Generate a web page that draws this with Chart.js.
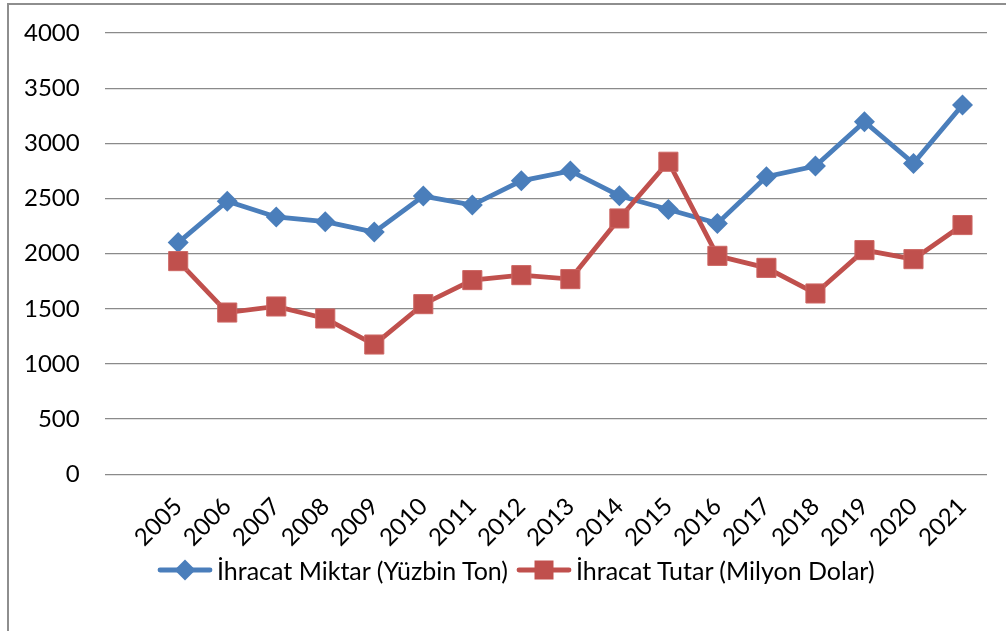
<!DOCTYPE html>
<html>
<head>
<meta charset="utf-8">
<script src="https://cdn.jsdelivr.net/npm/chart.js@4/dist/chart.umd.min.js"></script>
<style>
  html, body { margin: 0; padding: 0; background: #fff; }
  #wrap { position: relative; width: 1006px; height: 631px; overflow: hidden; }
  #frame { position: absolute; left: 7px; top: 3px; width: 1020px; height: 650px;
           border-left: 2px solid #8e8e8e; border-top: 2px solid #8e8e8e; }
  canvas#exportChart { position: absolute; left: 0; top: 0; }
  #legend { position: absolute; left: 157px; top: 555px; display: flex; align-items: center;
            font-family: Lato, "Open Sans", sans-serif; font-size: 25px; color: #000; white-space: nowrap; }
  #legend canvas { display: block; }
  #legend .txt { margin-left: 4px; margin-right: 8px; line-height: 30px; }
</style>
</head>
<body>
<div id="wrap">
  <div id="frame"></div>
  <canvas id="exportChart" width="1006" height="631"></canvas>
  <div id="legend"></div>
</div>
<script>
// data
const years = [2005, 2006, 2007, 2008, 2009, 2010, 2011, 2012, 2013, 2014, 2015, 2016, 2017, 2018, 2019, 2020, 2021];
const miktar = [2100, 2475, 2332, 2290, 2195, 2522, 2440, 2660, 2750, 2525, 2400, 2274, 2697, 2794, 3196, 2818, 3347];
const tutar = [1932, 1466, 1521, 1412, 1176, 1542, 1760, 1805, 1769, 2319, 2833, 1980, 1871, 1639, 2032, 1950, 2259];
const yTicks = [0, 500, 1000, 1500, 2000, 2500, 3000, 3500, 4000];

const blue = '#4a7ebb';
const red = '#c0504d';
const fontFamily = 'Lato, "Open Sans", sans-serif';
const clear = 'rgba(0,0,0,0)';

const ctx = document.getElementById('exportChart').getContext('2d');
const chart = new Chart(ctx, {
    type: 'line',
    data: {
        datasets: [
            {
                label: 'İhracat Miktar (Yüzbin Ton)',
                data: years.map((y, i) => ({ x: y, y: miktar[i] })),
                borderColor: blue,
                backgroundColor: blue,
                borderWidth: 4.8,
                pointStyle: 'rectRot',
                pointRadius: 10.5,
                pointBorderWidth: 0,
                order: 1
            },
            {
                label: 'İhracat Tutar (Milyon Dolar)',
                data: years.map((y, i) => ({ x: y, y: tutar[i] })),
                borderColor: red,
                backgroundColor: red,
                borderWidth: 4.8,
                pointStyle: 'rect',
                pointRadius: 13.5,
                pointBorderWidth: 1,
                pointBorderColor: '#cd6764',
                order: 0
            }
        ]
    },
    options: {
        responsive: false,
        animation: false,
        layout: { padding: { left: 21, right: 19, top: 33, bottom: 77 } },
        scales: {
            x: {
                type: 'linear',
                min: 2003.5,
                max: 2021.5,
                afterBuildTicks: (scale) => { scale.ticks = years.map(v => ({ value: v })); },
                // ticks kept invisible, their length only spaces the labels
                grid: { drawOnChartArea: false, drawTicks: true, tickLength: 16, tickColor: clear, color: clear },
                border: { display: false },
                ticks: {
                    minRotation: 45,
                    maxRotation: 45,
                    padding: 2,
                    color: '#000',
                    font: { family: fontFamily, size: 24 },
                    callback: (v) => String(v)
                }
            },
            y: {
                min: 0,
                max: 4000,
                afterBuildTicks: (scale) => { scale.ticks = yTicks.map(v => ({ value: v })); },
                grid: { color: '#8a8a8a', lineWidth: 1.3, drawTicks: true, tickLength: 22, tickColor: clear },
                border: { display: false },
                ticks: {
                    padding: 3,
                    color: '#000',
                    font: { family: fontFamily, size: 24 },
                    callback: (v) => String(v)
                }
            }
        },
        plugins: {
            tooltip: { enabled: false },
            legend: { display: false }
        }
    }
});

// legend: line sample with marker, then the label text
function legendSample(color, shape) {
    const c = document.createElement('canvas');
    c.width = 56;
    c.height = 24;
    const g = c.getContext('2d');
    g.strokeStyle = color;
    g.lineWidth = 4.8;
    g.lineCap = 'round';
    g.beginPath();
    g.moveTo(3, 12);
    g.lineTo(53, 12);
    g.stroke();
    g.fillStyle = color;
    g.beginPath();
    if (shape === 'diamond') {
        g.moveTo(28, 1.5); g.lineTo(38.5, 12); g.lineTo(28, 22.5); g.lineTo(17.5, 12);
    } else {
        g.rect(18.5, 2.5, 19, 19);
    }
    g.closePath();
    g.fill();
    return c;
}

const legend = document.getElementById('legend');
chart.data.datasets.forEach((ds, i) => {
    legend.appendChild(legendSample(ds.borderColor, i === 0 ? 'diamond' : 'square'));
    const span = document.createElement('span');
    span.className = 'txt';
    span.textContent = ds.label;
    legend.appendChild(span);
});
</script>
</body>
</html>
